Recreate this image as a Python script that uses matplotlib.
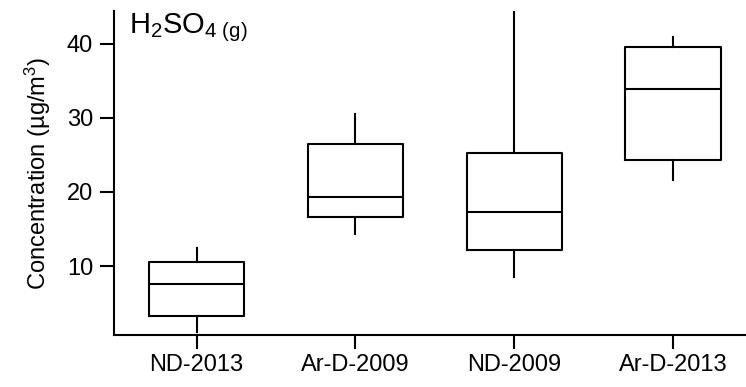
import matplotlib
matplotlib.use('Agg')
import matplotlib.pyplot as plt

plt.rcParams['font.family'] = ['Liberation Sans', 'DejaVu Sans']
plt.rcParams['mathtext.fontset'] = 'custom'
plt.rcParams['mathtext.rm'] = 'Liberation Sans'
plt.rcParams['mathtext.it'] = 'Liberation Sans'
plt.rcParams['mathtext.default'] = 'regular'

# box statistics per campaign (ug/m3)
sites = ['ND-2013', 'Ar-D-2009', 'ND-2009', 'Ar-D-2013']
whislo = [1.16, 14.27, 8.56, 21.66]
q1 = [3.23, 16.6, 12.2, 24.35]
med = [7.54, 19.33, 17.3, 33.86]
q3 = [10.58, 26.46, 25.25, 39.55]
whishi = [12.38, 30.46, 46.0, 40.85]

stats = []
for i in range(len(sites)):
    stats.append({'label': sites[i], 'whislo': whislo[i], 'q1': q1[i],
                  'med': med[i], 'q3': q3[i], 'whishi': whishi[i], 'fliers': []})

fig = plt.figure(figsize=(7.46, 3.87), dpi=100)
ax = fig.add_axes([0.1528, 0.1344, 0.8472, 0.8372])

lw = 1.5
ax.bxp(stats, positions=range(len(sites)), widths=0.6, showcaps=False, showfliers=False,
       boxprops=dict(color='black', linewidth=lw),
       whiskerprops=dict(color='black', linewidth=lw),
       medianprops=dict(color='black', linewidth=lw))

ax.set_xlim(-0.52, 3.46)
ax.set_ylim(0.7, 44.4)
ax.set_yticks([10, 20, 30, 40])
ax.set_xticks(range(len(sites)))
ax.set_xticklabels(sites)

for s in ['top', 'right']:
    ax.spines[s].set_visible(False)
for s in ['left', 'bottom']:
    ax.spines[s].set_linewidth(lw)
ax.tick_params(direction='out', length=10, width=lw, labelsize=17)
ax.tick_params(axis='y', pad=5)
ax.tick_params(axis='x', pad=4)

ax.set_ylabel('Concentration (µg/m$^3$)', fontsize=17, labelpad=10)
ax.text(0.024, 1.0, 'H$_2$SO$_4$$_{\\;(g)}$', transform=ax.transAxes,
        fontsize=21, va='top', ha='left')

fig.savefig('out.png', dpi=100)
